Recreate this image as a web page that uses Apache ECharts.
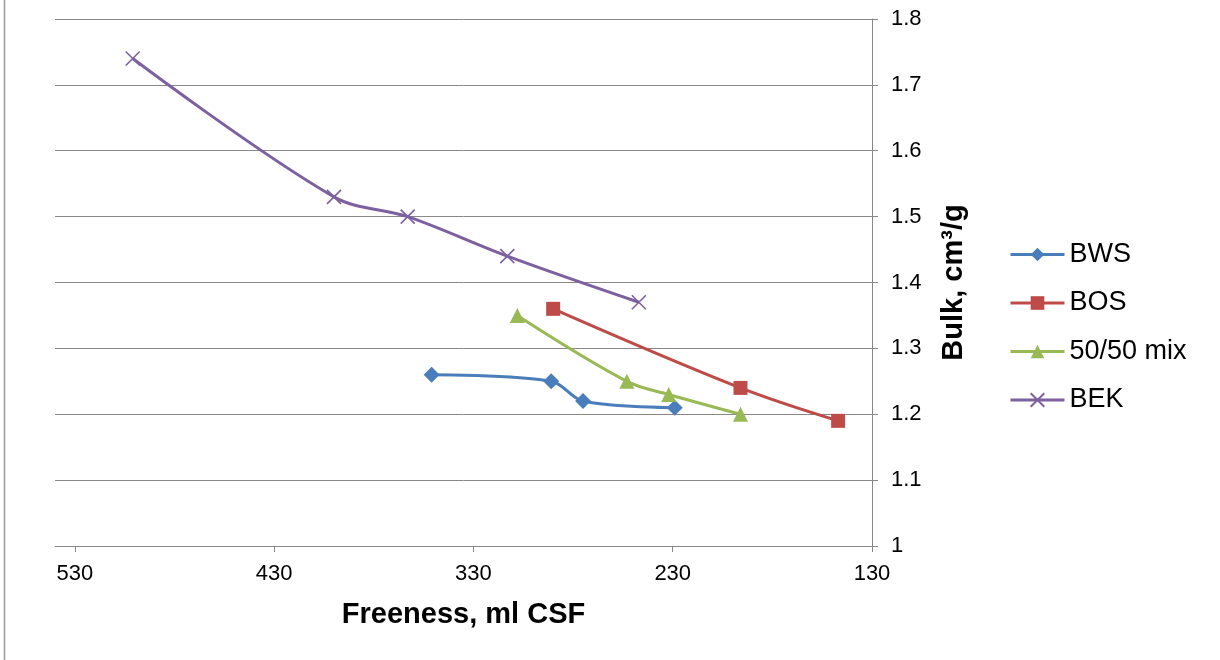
<!DOCTYPE html>
<html>
<head>
<meta charset="utf-8">
<script src="https://cdn.jsdelivr.net/npm/echarts@6/dist/echarts.min.js"></script>
<style>
html,body{margin:0;padding:0;background:#fff;}
#chart{width:1220px;height:660px;}
</style>
</head>
<body>
<div id="chart"></div>
<script>
// Data (Freeness, ml CSF ; Bulk, cm3/g)
const seriesNames = ['BWS', 'BOS', '50/50 mix', 'BEK'];
const bwsFreeness = [351, 291, 275, 229];
const bwsBulk = [1.26, 1.25, 1.22, 1.21];
const bosFreeness = [290, 196, 147];
const bosBulk = [1.36, 1.24, 1.19];
const mixFreeness = [308, 253, 232, 196];
const mixBulk = [1.35, 1.25, 1.23, 1.20];
const bekFreeness = [501, 400, 363, 313, 247];
const bekBulk = [1.74, 1.53, 1.50, 1.44, 1.37];
const xTickValues = [130, 230, 330, 430, 530];

const colors = ['#4A7EBB', '#BE4B48', '#98B954', '#7D60A0'];
const FONT = "'Liberation Sans', Arial, sans-serif";

function pairs(xs, ys) { return xs.map((x, i) => [x, ys[i]]); }

const crossPath = 'path://M0,0L10,10M10,0L0,10';

function mkSeries(name, xs, ys, color, symbol, size) {
  const isCross = symbol === crossPath;
  return {
    name: name,
    type: 'line',
    data: pairs(xs, ys),
    smooth: 0.35,
    symbol: symbol,
    symbolSize: size,
    lineStyle: { color: color, width: 3 },
    itemStyle: isCross
      ? { color: color, borderColor: color, borderWidth: 1.6 }
      : { color: color, borderWidth: 0 },
    emphasis: { disabled: true },
    z: 3
  };
}

const chart = echarts.init(document.getElementById('chart'), null, { renderer: 'canvas' });

chart.setOption({
  animation: false,
  backgroundColor: '#fff',
  textStyle: { fontFamily: FONT },
  grid: { left: 55, right: 348, top: 19, bottom: 114, containLabel: false },
  xAxis: {
    type: 'value',
    inverse: true,
    min: 130,
    max: 540,
    name: 'Freeness, ml CSF',
    nameLocation: 'middle',
    nameGap: 54,
    nameTextStyle: { fontFamily: FONT, fontSize: 29, fontWeight: 'bold', color: '#000' },
    axisLine: { show: true, onZero: false, lineStyle: { color: '#888', width: 1 } },
    axisTick: { show: true, length: 6, customValues: xTickValues, lineStyle: { color: '#888' } },
    axisLabel: { customValues: xTickValues, fontFamily: FONT, fontSize: 22, color: '#000', margin: 17 },
    splitLine: { show: false }
  },
  yAxis: {
    type: 'value',
    position: 'right',
    min: 1,
    max: 1.8,
    interval: 0.1,
    name: 'Bulk, cm³/g',
    nameLocation: 'middle',
    nameGap: 67,
    nameTextStyle: { fontFamily: FONT, fontSize: 29, fontWeight: 'bold', color: '#000' },
    axisLine: { show: true, onZero: false, lineStyle: { color: '#888', width: 1 } },
    axisTick: { show: true, length: 6, lineStyle: { color: '#888' } },
    axisLabel: { fontFamily: FONT, fontSize: 22, color: '#000', margin: 19 },
    splitLine: { show: true, lineStyle: { color: '#888', width: 1 } }
  },
  legend: {
    orient: 'vertical',
    left: 1009,
    top: 241,
    padding: 0,
    itemWidth: 54,
    itemHeight: 17,
    itemGap: 21.5,
    lineStyle: { width: 3 },
    textStyle: { fontFamily: FONT, fontSize: 27, color: '#000' },
    data: seriesNames
  },
  graphic: [
    { type: 'line', shape: { x1: 4.5, y1: 0, x2: 4.5, y2: 660 }, style: { stroke: '#999', lineWidth: 1.5 } }
  ],
  series: [
    mkSeries(seriesNames[0], bwsFreeness, bwsBulk, colors[0], 'diamond', 16),
    mkSeries(seriesNames[1], bosFreeness, bosBulk, colors[1], 'rect', 14),
    mkSeries(seriesNames[2], mixFreeness, mixBulk, colors[2], 'triangle', 15),
    mkSeries(seriesNames[3], bekFreeness, bekBulk, colors[3], crossPath, 14)
  ]
});
</script>
</body>
</html>
